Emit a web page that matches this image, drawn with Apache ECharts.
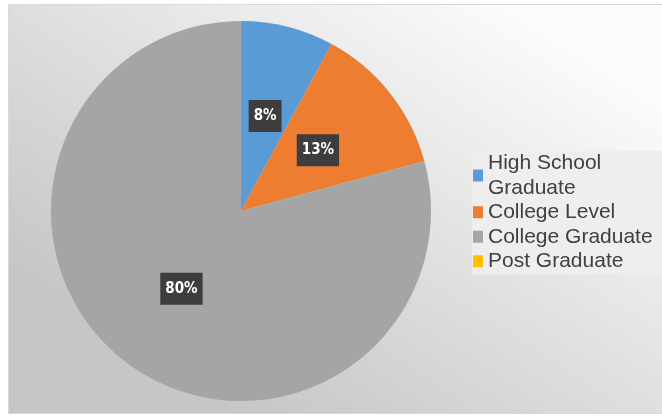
<!DOCTYPE html>
<html>
<head>
<meta charset="utf-8">
<style>
  html, body { margin: 0; padding: 0; background: #ffffff; }
  #chart { width: 662px; height: 417px; }
</style>
<script src="https://cdn.jsdelivr.net/npm/echarts@6/dist/echarts.min.js"></script>
</head>
<body>
<div id="chart"></div>
<script>
// Educational attainment shares (percent of respondents)
const categories = ['High School Graduate', 'College Level', 'College Graduate', 'Post Graduate'];
const shares = [8, 13, 80, 0];
const colors = ['#5b9bd5', '#ed7d31', '#a5a5a5', '#ffc000'];
// Legend text, with the long first entry wrapped onto two lines
const legendText = ['High School\nGraduate', 'College Level', 'College Graduate', 'Post Graduate'];

const chart = echarts.init(document.getElementById('chart'), null, { renderer: 'canvas' });

const pieData = categories.map((name, i) => ({
  name: name,
  value: shares[i],
  itemStyle: { color: colors[i] },
  label: { show: shares[i] > 0 }
}));

chart.setOption({
  animation: false,
  backgroundColor: '#ffffff',
  graphic: [{
    type: 'rect',
    z: -10,
    silent: true,
    shape: { x: 8.5, y: 4.5, width: 660, height: 409 },
    style: {
      fill: new echarts.graphic.LinearGradient(0.75, 0, 0.35, 1, [
        { offset: 0, color: '#fbfbfb' },
        { offset: 0.45, color: '#e3e3e3' },
        { offset: 1, color: '#c6c6c6' }
      ]),
      stroke: '#d9d9d9',
      lineWidth: 1
    }
  }],
  legend: {
    orient: 'vertical',
    left: 472,
    top: 151,
    padding: [0, 20, 1, 1],
    backgroundColor: '#eeeeee',
    itemWidth: 10,
    itemHeight: 12,
    itemGap: 0,
    itemTextGap: 4,
    icon: 'rect',
    selectedMode: false,
    data: categories,
    formatter: name => legendText[categories.indexOf(name)],
    textStyle: {
      fontFamily: 'Liberation Sans, Arial, sans-serif',
      fontSize: 21,
      lineHeight: 24.5,
      color: '#404040'
    }
  },
  series: [{
    type: 'pie',
    center: [241, 211],
    radius: [0, 190],
    startAngle: 90,
    clockwise: true,
    silent: true,
    stillShowZeroSum: true,
    avoidLabelOverlap: false,
    itemStyle: { borderWidth: 0 },
    label: {
      position: 'inside',
      formatter: p => p.value + '%',
      color: '#ffffff',
      fontFamily: 'DejaVu Sans Condensed, DejaVu Sans, sans-serif',
      fontWeight: 'bold',
      fontSize: 15,
      lineHeight: 15,
      backgroundColor: '#3d3d3d',
      padding: [9, 5, 8, 5]
    },
    labelLine: { show: false },
    emphasis: { disabled: true },
    data: pieData
  }]
});
</script>
</body>
</html>
